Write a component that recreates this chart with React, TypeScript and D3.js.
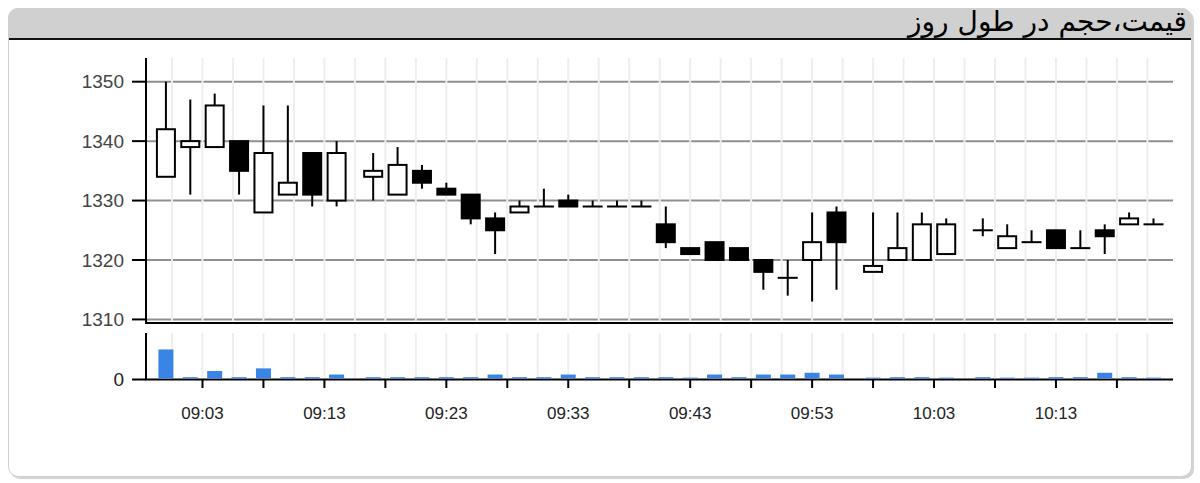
import React from "react";
import * as d3 from "d3";

// ---- data ----
const times = [
  "09:00","09:02","09:04","09:06","09:08","09:10","09:12","09:14","09:17","09:19",
  "09:21","09:23","09:25","09:27","09:29","09:31","09:33","09:35","09:37","09:39",
  "09:41","09:43","09:45","09:47","09:49","09:51","09:53","09:55","09:58","10:00",
  "10:02","10:04","10:07","10:09","10:11","10:13","10:15","10:17","10:19","10:21",
];
const opens = [
  1334,1339,1339,1340,1328,1331,1338,1330,1334,1331,
  1335,1332,1331,1327,1328,1329,1330,1329,1329,1329,
  1326,1322,1323,1322,1320,1317,1320,1328,1318,1320,
  1320,1321,1325,1322,1323,1325,1322,1325,1326,1326,
];
const highs = [
  1350,1347,1348,1340,1346,1346,1338,1340,1338,1339,
  1336,1333,1331,1328,1330,1332,1331,1330,1330,1330,
  1329,1322,1323,1322,1320,1320,1328,1329,1328,1328,
  1328,1327,1327,1326,1325,1325,1325,1326,1328,1327,
];
const lows = [
  1334,1331,1339,1331,1328,1331,1329,1329,1330,1331,
  1332,1331,1326,1321,1328,1329,1329,1329,1329,1329,
  1322,1321,1320,1320,1315,1314,1313,1315,1318,1320,
  1320,1321,1324,1322,1323,1322,1322,1321,1326,1326,
];
const closes = [
  1342,1340,1346,1335,1338,1333,1331,1338,1335,1336,
  1333,1331,1327,1325,1329,1329,1329,1329,1329,1329,
  1323,1321,1320,1320,1318,1317,1323,1323,1319,1322,
  1326,1326,1325,1324,1323,1322,1322,1324,1327,1326,
];
const volumes = [
  66,3,17,3,23,3,3,9,3,3,
  3,3,3,9,3,3,9,3,3,3,
  3,2,9,3,9,9,13,9,2,3,
  3,2,3,2,2,3,3,13,3,2,
];
const priceTicks = [1310, 1320, 1330, 1340, 1350];
const volumeTicks = [0];
const xDomain = ["08:58:22", "10:22:36"];
const title = "قیمت،حجم در طول روز";

const parseT = (s: string) => {
  const p = s.split(":").map(Number);
  return new Date(2024, 0, 1, p[0], p[1], p[2] || 0);
};

export default function App() {
  const W = 1200, H = 483;
  const left = 146, right = 1173;
  const pTop = 58, pBot = 323;
  const vTop = 333, vBot = 379;

  const x = d3.scaleTime().domain(xDomain.map(parseT)).range([left, right]);
  const y = d3.scaleLinear().domain([1309.4, 1353.65]).range([pBot, 60]);
  const yv = d3.scaleLinear().domain([0, 100]).range([vBot, vTop + 2]);

  const d1 = x.domain()[1].getTime();
  const gridStart = parseT("09:00:30").getTime();
  const vGrid = d3.range(gridStart, d1, 150000).map((t) => new Date(t));
  const tickStart = parseT("09:03").getTime();
  const xTicks = d3.range(tickStart, d1, 300000).map((t) => new Date(t));
  const fmt = d3.timeFormat("%H:%M");
  const labelEvery = 2;

  const data = times.map((t, i) => ({
    t: parseT(t), o: opens[i], h: highs[i], l: lows[i], c: closes[i], v: volumes[i],
  }));
  const bw = 18, vw = 15;

  return (
    <svg width={W} height={H} style={{ position: "absolute", left: 0, top: 0 }}
      fontFamily="'Liberation Sans', Arial, sans-serif">
      <defs>
        <clipPath id="hdr">
          <rect x={8} y={8} width={1184} height={469} rx={10} />
        </clipPath>
      </defs>
      {/* container */}
      <rect x={10} y={10} width={1184} height={469} rx={10} fill="#b5b5b5" opacity={0.6} />
      <rect x={8.5} y={8.5} width={1183} height={468} rx={10} fill="#fff" stroke="#cfcfcf" />
      <g clipPath="url(#hdr)">
        <rect x={8} y={8} width={1184} height={30} fill="#d0d0d0" />
      </g>
      <line x1={9} x2={1191} y1={39} y2={39} stroke="#111" strokeWidth={2} />
      <text x={1187} y={31} textAnchor="end" fontSize={28} fill="#000"
        fontFamily="'DejaVu Sans', sans-serif">{title}</text>

      {/* horizontal gridlines */}
      {priceTicks.map((v) => (
        <line key={"hg" + v} x1={left} x2={right} y1={y(v)} y2={y(v)} stroke="#8f8f8f" strokeWidth={2} />
      ))}
      {/* vertical gridlines */}
      {vGrid.map((d, i) => (
        <g key={"vg" + i}>
          <line x1={x(d)} x2={x(d)} y1={pTop} y2={pBot - 1} stroke="#eeeeee" strokeWidth={2} />
          <line x1={x(d)} x2={x(d)} y1={vTop} y2={vBot - 1} stroke="#eeeeee" strokeWidth={2} />
        </g>
      ))}

      {/* candles */}
      {data.map((d, i) => {
        const cx = x(d.t);
        const up = d.c >= d.o;
        const top = y(Math.max(d.o, d.c));
        const bot = y(Math.min(d.o, d.c));
        return (
          <g key={"c" + i}>
            <line x1={cx} x2={cx} y1={y(d.h)} y2={y(d.l)} stroke="#000" strokeWidth={2} />
            {bot - top < 0.5 ? (
              <line x1={cx - bw / 2 - 1} x2={cx + bw / 2 + 1} y1={top} y2={top} stroke="#000" strokeWidth={2} />
            ) : (
              <rect x={cx - bw / 2} y={top} width={bw} height={bot - top}
                fill={up ? "#fff" : "#000"} stroke="#000" strokeWidth={2} />
            )}
          </g>
        );
      })}

      {/* axes lines */}
      <line x1={left} x2={right} y1={pBot} y2={pBot} stroke="#000" strokeWidth={2} />
      <line x1={left} x2={left} y1={pTop} y2={pBot + 1} stroke="#000" strokeWidth={2} />
      <line x1={left} x2={left} y1={vTop} y2={vBot + 1} stroke="#000" strokeWidth={2} />
      <line x1={left - 1} x2={right} y1={vBot + 0.5} y2={vBot + 0.5} stroke="#000" strokeWidth={2} />

      {/* volume bars */}
      {data.map((d, i) => (
        <rect key={"v" + i} x={x(d.t) - vw / 2} y={yv(d.v) - 0.5} width={vw}
          height={vBot - yv(d.v)} fill="#3a84e6" />
      ))}

      {/* y ticks */}
      {priceTicks.map((v) => (
        <g key={"yt" + v}>
          <line x1={left - 14} x2={left} y1={y(v)} y2={y(v)} stroke="#000" strokeWidth={2} />
          <text x={left - 22} y={y(v)} dy="0.35em" textAnchor="end" fontSize={19} fill="#444">{v}</text>
        </g>
      ))}
      {volumeTicks.map((v) => (
        <g key={"vt" + v}>
          <line x1={left - 14} x2={left} y1={yv(v) + 0.5} y2={yv(v) + 0.5} stroke="#000" strokeWidth={2} />
          <text x={left - 22} y={yv(v)} dy="0.35em" textAnchor="end" fontSize={19} fill="#222">{v}</text>
        </g>
      ))}

      {/* x ticks */}
      {xTicks.map((d, i) => (
        <g key={"xt" + i}>
          <line x1={x(d)} x2={x(d)} y1={vBot} y2={vBot + 9} stroke="#000" strokeWidth={2} />
          {i % labelEvery === 0 && (
            <text x={x(d)} y={413} dy="0.35em" textAnchor="middle" fontSize={17} fill="#222">{fmt(d)}</text>
          )}
        </g>
      ))}
    </svg>
  );
}
